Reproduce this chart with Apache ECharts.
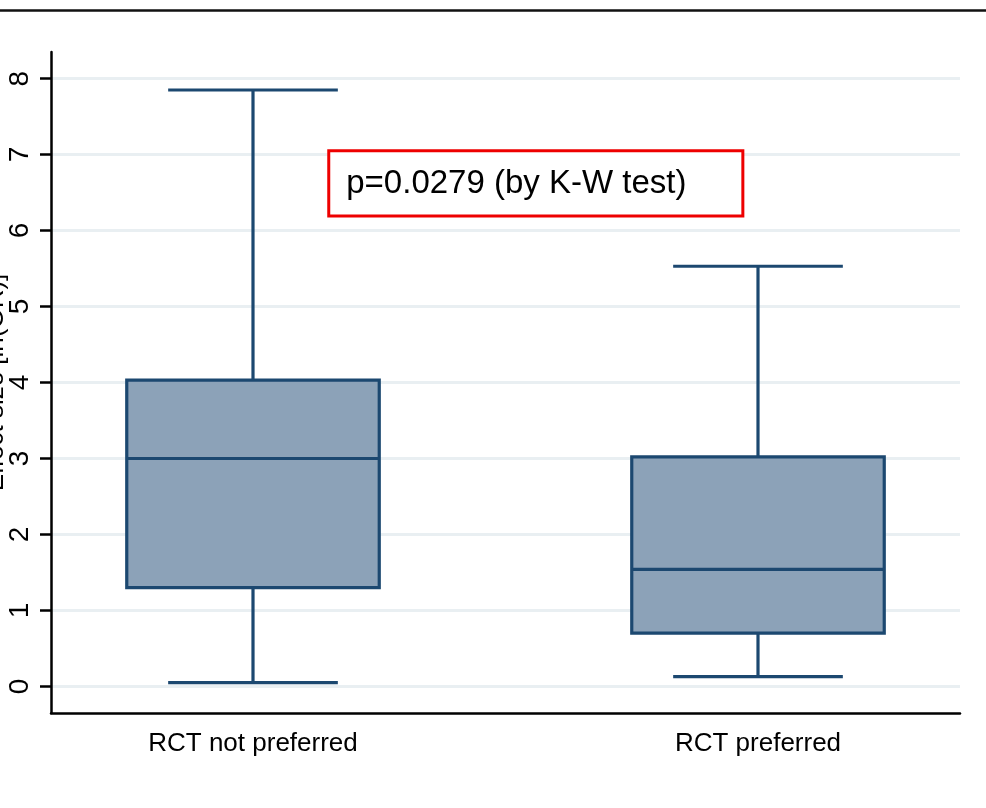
<!DOCTYPE html>
<html>
<head>
<meta charset="utf-8">
<script src="https://cdn.jsdelivr.net/npm/echarts@6/dist/echarts.min.js"></script>
<style>
html,body{margin:0;padding:0;background:#fff;}
#chart{width:986px;height:808px;}
</style>
</head>
<body>
<div id="chart"></div>
<script>
const categories = ['RCT not preferred', 'RCT preferred'];
const positions = [1, 2];
const lowerWhisker = [0.05, 0.13];
const q1 = [1.30, 0.70];
const median = [3.00, 1.54];
const q3 = [4.03, 3.02];
const upperWhisker = [7.85, 5.53];
const yTicks = [0, 1, 2, 3, 4, 5, 6, 7, 8];
const yAxisTitle = 'Effect size [ln(OR)]';
const annotationText = 'p=0.0279 (by K-W test)';

const boxData = positions.map((p, i) => [p, lowerWhisker[i], q1[i], median[i], q3[i], upperWhisker[i]]);

const STROKE = '#1c4870';
const FILL = '#8ca2b8';
const BOX_HALF = 0.25;
const CAP_HALF = 0.168;

function renderBox(params, api) {
  const x = api.value(0);
  const lo = api.value(1), a = api.value(2), m = api.value(3), b = api.value(4), hi = api.value(5);
  const pLo = api.coord([x, lo]);
  const pHi = api.coord([x, hi]);
  const pA = api.coord([x, a]);
  const pB = api.coord([x, b]);
  const pM = api.coord([x, m]);
  const boxL = api.coord([x - BOX_HALF, m])[0];
  const boxR = api.coord([x + BOX_HALF, m])[0];
  const capL = api.coord([x - CAP_HALF, m])[0];
  const capR = api.coord([x + CAP_HALF, m])[0];
  const lineStyle = {stroke: STROKE, lineWidth: 3.2, fill: null};
  return {
    type: 'group',
    children: [
      {type: 'line', shape: {x1: pHi[0], y1: pHi[1], x2: pB[0], y2: pB[1]}, style: lineStyle},
      {type: 'line', shape: {x1: pA[0], y1: pA[1], x2: pLo[0], y2: pLo[1]}, style: lineStyle},
      {type: 'line', shape: {x1: capL, y1: pHi[1], x2: capR, y2: pHi[1]}, style: lineStyle},
      {type: 'line', shape: {x1: capL, y1: pLo[1], x2: capR, y2: pLo[1]}, style: lineStyle},
      {type: 'rect', shape: {x: boxL, y: pB[1], width: boxR - boxL, height: pA[1] - pB[1]},
        style: {fill: FILL, stroke: STROKE, lineWidth: 3.2}},
      {type: 'line', shape: {x1: boxL, y1: pM[1], x2: boxR, y2: pM[1]}, style: lineStyle}
    ]
  };
}

const chart = echarts.init(document.getElementById('chart'), null, {renderer: 'canvas'});
chart.setOption({
  animation: false,
  backgroundColor: '#fff',
  grid: {left: 51, right: 26, top: 52, bottom: 95, containLabel: false, outerBoundsMode: 'none'},
  xAxis: {
    type: 'value',
    min: 0.6,
    max: 2.4,
    axisLine: {show: true, onZero: false, lineStyle: {color: '#000', width: 2.5}},
    axisTick: {show: false},
    splitLine: {show: false},
    axisLabel: {
      customValues: positions,
      formatter: v => categories[positions.indexOf(v)] || '',
      fontFamily: 'Liberation Sans, Arial, sans-serif',
      fontSize: 26,
      color: '#000',
      margin: 18
    }
  },
  yAxis: {
    type: 'value',
    min: -0.35,
    max: 8.35,
    name: yAxisTitle,
    nameLocation: 'middle',
    nameRotate: 90,
    nameGap: 42,
    nameMoveOverlap: false,
    nameTextStyle: {fontFamily: 'Liberation Sans, Arial, sans-serif', fontSize: 26, color: '#000'},
    axisLine: {show: true, onZero: false, lineStyle: {color: '#000', width: 2.5}},
    axisTick: {show: true, customValues: yTicks, length: 11, lineStyle: {color: '#000', width: 2.5}},
    axisLabel: {
      customValues: yTicks,
      rotate: 90,
      fontFamily: 'Liberation Sans, Arial, sans-serif',
      fontSize: 28,
      color: '#000',
      margin: 17
    },
    splitLine: {show: true, lineStyle: {color: '#e9eff2', width: 3}}
  },
  graphic: [
    {type: 'line', shape: {x1: 0, y1: 10.5, x2: 986, y2: 10.5}, style: {stroke: '#111', lineWidth: 2.5}, z: 10}
  ],
  series: [
    {
      type: 'custom',
      renderItem: renderBox,
      data: boxData,
      encode: {x: 0, y: [1, 2, 3, 4, 5]},
      z: 3
    },
    {
      type: 'line',
      data: [],
      markArea: {
        silent: true,
        itemStyle: {color: '#fff', borderColor: '#ee0000', borderWidth: 3},
        label: {
          show: true,
          position: 'insideLeft',
          distance: 19,
          color: '#000',
          fontFamily: 'Liberation Sans, Arial, sans-serif',
          fontSize: 33
        },
        data: [[
          {name: annotationText, coord: [1.150, 7.05]},
          {coord: [1.970, 6.19]}
        ]]
      }
    }
  ]
});
</script>
</body>
</html>
